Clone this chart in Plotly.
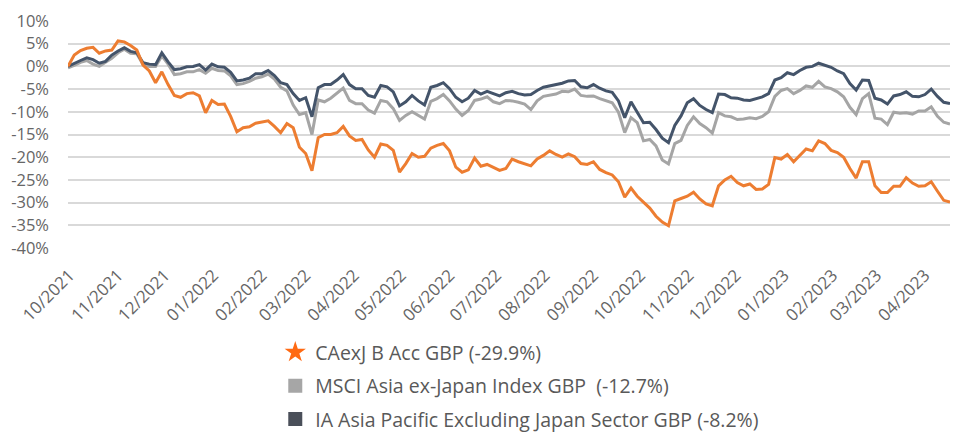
import pandas as pd
import plotly.graph_objects as go

# ---- data (% cumulative return) ----
start_date = "2021-09-30"
n_points = 142
dates = pd.date_range(start_date, periods=n_points, freq="4D")

fund = [0.0, 2.5, 3.5, 4.0, 4.2, 2.9, 3.4, 3.6, 5.6, 5.4,
        4.6, 3.6, 0.3, -1.0, -3.6, -1.2, -4.0, -6.4, -6.8, -6.0,
        -5.8, -6.5, -10.2, -7.5, -8.4, -8.3, -11.0, -14.4, -13.5, -13.3,
        -12.5, -12.3, -12.0, -13.2, -14.6, -12.6, -13.5, -17.8, -19.2, -23.0,
        -15.7, -15.0, -15.0, -14.6, -13.2, -15.3, -16.3, -16.1, -18.4, -20.0,
        -17.1, -17.4, -18.5, -23.3, -21.4, -19.2, -20.0, -19.8, -18.0, -17.4,
        -17.0, -18.6, -22.2, -23.3, -22.8, -20.2, -22.0, -21.6, -22.3, -22.9,
        -22.5, -20.4, -21.0, -21.4, -21.9, -20.4, -19.6, -18.6, -19.4, -20.0,
        -19.3, -19.9, -21.4, -21.6, -21.0, -22.7, -23.4, -23.9, -25.4, -28.8,
        -26.8, -28.6, -30.0, -31.2, -33.0, -34.3, -35.1, -29.6, -29.1, -28.6,
        -27.7, -29.2, -30.3, -30.7, -26.3, -25.0, -24.2, -25.6, -26.3, -25.9,
        -27.1, -27.0, -26.0, -20.1, -20.4, -19.4, -21.0, -19.6, -18.2, -18.6,
        -16.4, -17.0, -18.5, -19.0, -20.0, -22.5, -24.6, -21.0, -21.0, -26.3,
        -27.8, -27.8, -26.4, -26.4, -24.5, -25.7, -26.4, -26.3, -25.4, -27.5,
        -29.5, -29.9]

msci = [-0.3, 0.2, 0.9, 1.3, 0.5, 0.0, 0.9, 1.8, 3.0, 3.8,
        2.9, 2.8, 0.4, 0.0, 0.0, 2.3, 0.5, -1.8, -1.6, -1.2,
        -1.2, -0.7, -1.5, -0.4, -0.9, -1.0, -2.1, -4.0, -3.8, -3.3,
        -2.6, -2.3, -1.7, -2.8, -4.6, -5.4, -8.5, -10.6, -10.2, -15.0,
        -7.4, -7.8, -7.0, -6.0, -4.8, -7.5, -8.2, -8.2, -9.6, -10.3,
        -7.5, -7.8, -9.3, -11.9, -10.8, -10.0, -10.8, -11.6, -7.7, -7.1,
        -6.2, -7.6, -9.4, -10.8, -9.7, -7.5, -7.2, -6.7, -7.8, -8.2,
        -7.5, -7.6, -7.9, -8.3, -9.5, -7.6, -6.6, -6.3, -6.1, -5.5,
        -5.6, -5.0, -6.4, -6.6, -6.5, -7.1, -7.6, -8.0, -10.1, -14.6,
        -11.3, -12.4, -16.4, -16.1, -17.5, -20.6, -21.5, -17.0, -16.3, -13.0,
        -11.1, -12.6, -13.5, -14.7, -10.2, -10.9, -11.1, -11.7, -11.6, -11.3,
        -11.5, -11.0, -10.0, -6.6, -5.3, -4.9, -6.0, -5.3, -4.3, -4.6,
        -3.3, -4.5, -4.9, -5.6, -6.7, -9.0, -10.6, -7.1, -6.0, -11.4,
        -11.6, -12.8, -10.1, -10.3, -10.2, -10.5, -9.8, -9.8, -8.9, -11.0,
        -12.3, -12.7]

sector = [0.0, 0.7, 1.3, 1.9, 1.5, 0.7, 1.1, 2.5, 3.4, 4.1,
          3.3, 3.0, 0.8, 0.5, 0.4, 3.0, 1.0, -0.7, -0.5, -0.1,
          0.0, 0.4, -0.8, 0.5, -0.1, -0.2, -1.3, -3.2, -3.0, -2.6,
          -1.6, -1.6, -0.9, -2.0, -3.6, -4.0, -6.0, -7.5, -6.9, -11.1,
          -4.7, -4.0, -4.0, -3.0, -1.8, -4.0, -4.9, -4.9, -6.4, -6.8,
          -4.2, -4.5, -5.6, -8.7, -7.8, -6.4, -7.6, -8.5, -4.6, -4.2,
          -3.6, -4.9, -6.8, -7.8, -7.0, -5.3, -6.1, -5.5, -6.0, -6.5,
          -5.8, -5.5, -6.0, -6.3, -6.2, -5.3, -4.6, -4.3, -3.9, -3.7,
          -3.2, -3.1, -4.5, -4.7, -4.0, -4.8, -5.4, -5.7, -7.6, -11.3,
          -7.8, -10.0, -12.4, -12.3, -13.9, -15.8, -16.8, -13.0, -10.9, -8.0,
          -7.1, -8.6, -9.5, -10.2, -6.1, -6.2, -6.9, -7.0, -7.4, -7.5,
          -7.1, -6.7, -6.0, -3.0, -2.5, -1.4, -1.8, -0.9, -0.2, 0.0,
          0.7, 0.2, -0.2, -1.0, -1.6, -3.8, -5.2, -3.0, -3.1, -7.0,
          -7.4, -8.3, -6.5, -6.2, -5.6, -6.6, -6.7, -6.2, -5.0, -6.6,
          -7.9, -8.2]

names = ["CAexJ B Acc GBP (-29.9%)",
         "MSCI Asia ex-Japan Index GBP  (-12.7%)",
         "IA Asia Pacific Excluding Japan Sector GBP (-8.2%)"]

y_ticks = [10, 5, 0, -5, -10, -15, -20, -25, -30, -35, -40]
y_tick_text = [f"{v}%" for v in y_ticks]

# ---- styles ----
C_FUND = "#ED7D31"
C_MSCI = "#A5A5A5"
C_SECTOR = "#44546A"
FONT = "Open Sans"

fig = go.Figure()
fig.add_trace(go.Scatter(x=dates, y=msci, mode="lines", line=dict(color=C_MSCI, width=3),
                         showlegend=False, hoverinfo="skip"))
fig.add_trace(go.Scatter(x=dates, y=sector, mode="lines", line=dict(color=C_SECTOR, width=3),
                         showlegend=False, hoverinfo="skip"))
fig.add_trace(go.Scatter(x=dates, y=fund, mode="lines", line=dict(color=C_FUND, width=3),
                         showlegend=False, hoverinfo="skip"))

# legend entries
legend_markers = [("star", 16, "#FF6A13"), ("square", 14, "#A6A6A6"), ("square", 14, "#4A4F59")]
for i, (sym, sz, col) in enumerate(legend_markers):
    fig.add_trace(go.Scatter(x=[None], y=[None], mode="markers", name=names[i],
                             legendgroup=f"g{i}",
                             marker=dict(symbol=sym, size=sz, color=col)))

fig.update_layout(
    width=959, height=434,
    margin=dict(l=68, r=9, t=21, b=186, autoexpand=False),
    paper_bgcolor="white", plot_bgcolor="white",
    font=dict(family=FONT, color="#666666", size=17),
    legend=dict(x=0.235, y=-0.375, xanchor="left", yanchor="top",
                orientation="v", font=dict(size=19.5, color="#595959", family=FONT),
                itemsizing="trace", tracegroupgap=5, bgcolor="rgba(0,0,0,0)"),
    xaxis=dict(type="date", range=[dates[0], dates[-1]], tickformat="%m/%Y",
               dtick="M1", tick0="2021-10-01", tickangle=-45, showgrid=False,
               zeroline=False, showline=False, ticks="", ticklabelstandoff=13,
               automargin=False, tickfont=dict(size=17, color="#666666")),
    yaxis=dict(range=[-40, 10], tickvals=y_ticks, ticktext=y_tick_text,
               showgrid=True, gridcolor="#D9D9D9", gridwidth=1.5,
               zeroline=False, showline=False, ticks="", ticklabelstandoff=18,
               automargin=False, tickfont=dict(size=16.5, color="#666666")),
)

fig.write_html("out.html", config={"displayModeBar": False},
               post_script="document.body.style.margin='0';")
